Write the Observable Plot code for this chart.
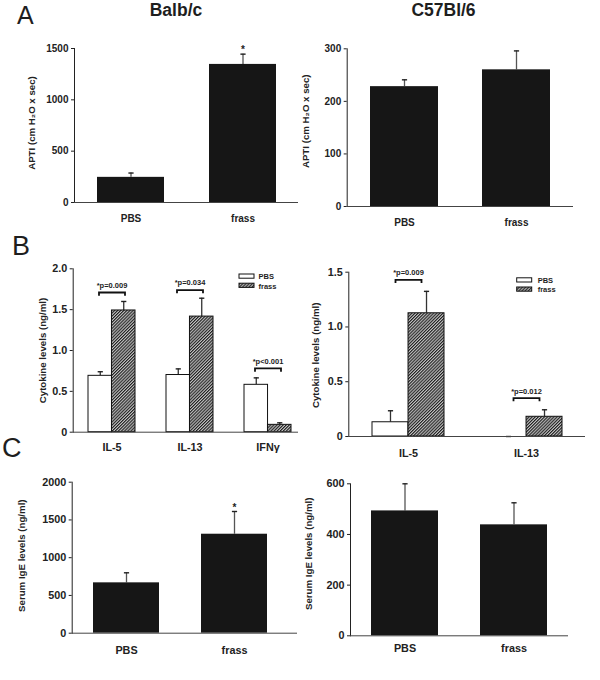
<!DOCTYPE html>
<html><head><meta charset="utf-8">
<script src="https://cdn.jsdelivr.net/npm/d3@7"></script>
<script src="https://cdn.jsdelivr.net/npm/@observablehq/plot@0.6"></script>
<style>
html,body{margin:0;padding:0;background:#fff;}
#root{position:relative;width:600px;height:680px;overflow:hidden;font-family:"Liberation Sans",Arial,Helvetica,sans-serif;}
</style></head><body>
<div id="root">
<svg width="0" height="0" style="position:absolute"><defs>
<pattern id="hatch" patternUnits="userSpaceOnUse" width="2.2" height="2.2" patternTransform="rotate(45)">
<rect width="2.2" height="2.2" fill="#c4c4c4"/><rect width="1.1" height="2.2" fill="#1e1e1e"/></pattern></defs></svg>
</div>
<script>
// ---- Data ----
const panelLetters = ["A", "B", "C"];
const strains = ["Balb/c", "C57Bl/6"];
const treatments = ["PBS", "frass"];
const legendLabels = ["PBS", "frass"];
// A: APTI
const aptiLabel = "APTI (cm H\u2082O x sec)";
const balbAPTI = [245, 1345];
const balbAPTIErr = [42, 100];
const balbAPTINote = ["", "*"];
const balbAPTITicks = [0, 500, 1000, 1500];
const c57APTI = [228, 260];
const c57APTIErr = [13, 36];
const c57APTINote = ["", ""];
const c57APTITicks = [0, 100, 200, 300];
// B: cytokines
const cytLabel = "Cytokine levels (ng/ml)";
const balbCytokines = ["IL-5", "IL-13", "IFN\u03b3"];
const balbCytPBS = [0.69, 0.70, 0.58];
const balbCytPBSErr = [0.05, 0.075, 0.085];
const balbCytFrass = [1.49, 1.415, 0.09];
const balbCytFrassErr = [0.11, 0.225, 0.025];
const balbCytP = ["*p=0.009", "*p=0.034", "*p<0.001"];
const balbCytPLevel = [1.71, 1.74, 0.78];
const balbCytTicks = [0, 0.5, 1.0, 1.5, 2.0];
const c57Cytokines = ["IL-5", "IL-13"];
const c57CytPBS = [0.13, 0];
const c57CytPBSErr = [0.105, 0];
const c57CytFrass = [1.125, 0.18];
const c57CytFrassErr = [0.2, 0.064];
const c57CytP = ["*p=0.009", "*p=0.012"];
const c57CytPLevel = [1.43, 0.35];
const c57CytTicks = [0, 0.5, 1.0, 1.5];
// C: IgE
const igeLabel = "Serum IgE levels (ng/ml)";
const balbIgE = [667, 1311];
const balbIgEErr = [133, 301];
const balbIgENote = ["", "*"];
const balbIgETicks = [0, 500, 1000, 1500, 2000];
const c57IgE = [493, 438];
const c57IgEErr = [107, 87];
const c57IgENote = ["", ""];
const c57IgETicks = [0, 200, 400, 600];

// ---- Rendering ----
const FONT = '"Liberation Sans", Arial, Helvetica, sans-serif';
const root = document.getElementById("root");
const capSymbol = {draw(ctx, size) { const w = Math.sqrt(size / Math.PI); ctx.moveTo(-w, 0); ctx.lineTo(w, 0); }};
const bracketSymbol = {draw(ctx, size) { const w = Math.sqrt(size / Math.PI); ctx.moveTo(-w, 3.2); ctx.lineTo(-w, 0); ctx.lineTo(w, 0); ctx.lineTo(w, 3.2); }};
const fmtInt = d => String(d);
const fmtDec = d => d === 0 ? "0" : d.toFixed(1);

function place(fig, L) {
  fig.style.position = "absolute";
  fig.style.left = L.left + "px";
  fig.style.top = L.top + "px";
  root.appendChild(fig);
}
function baseOpts(L, domain, ticks, fmt) {
  return {
    width: L.w, height: L.h,
    marginTop: L.mt, marginRight: L.mr, marginBottom: L.mb, marginLeft: L.ml,
    style: `font-family:${FONT};font-size:${L.fs}px;font-weight:bold;color:#222;background:transparent;overflow:visible;`,
    x: {type: "band", domain, paddingInner: L.pi, paddingOuter: L.po, align: L.al, label: null, tickSize: 0, tickPadding: L.tp},
    y: {domain: [ticks[0], ticks[ticks.length - 1]], ticks, tickFormat: fmt, label: null, tickSize: 3, tickPadding: 3, line: true}
  };
}
function yLabelMark(label, L) {
  return Plot.text([label], {text: d => d, frameAnchor: "left", rotate: -90, textAnchor: "middle", dx: L.ldx, dy: L.ldy, fontSize: 9.7, fill: "#222"});
}
function simplePanel(L, cats, vals, errs, notes, ticks, label) {
  const data = cats.map((c, i) => ({cat: c, value: vals[i], err: errs[i], note: notes[i]}));
  const fig = Plot.plot({
    ...baseOpts(L, cats, ticks, fmtInt),
    marks: [
      Plot.ruleX(data, {x: "cat", y1: "value", y2: d => d.value + d.err, stroke: "#555", strokeWidth: 1.3}),
      Plot.barY(data, {x: "cat", y: "value", fill: "#161616"}),
      Plot.dot(data, {x: "cat", y: d => d.value + d.err, symbol: capSymbol, r: 2.6, stroke: "#222", fill: "none", strokeWidth: 1.4}),
      Plot.text(data, {x: "cat", y: d => d.value + d.err, text: "note", dy: -4, fontSize: 10, fill: "#222"}),
      Plot.ruleY([0], {stroke: "#444", strokeWidth: 1}),
      yLabelMark(label, L)
    ]
  });
  place(fig, L);
}
function groupedPanel(L, groups, pbs, pbsErr, frass, frassErr, pLabels, pLevels, ticks, label) {
  const half = d3.scaleBand().domain(groups).range([L.ml, L.w - L.mr])
    .paddingInner(L.pi).paddingOuter(L.po).align(L.al).bandwidth() / 2;
  const P = groups.map((g, i) => ({g, value: pbs[i], err: pbsErr[i]}));
  const F = groups.map((g, i) => ({g, value: frass[i], err: frassErr[i]}));
  const S = groups.map((g, i) => ({g, label: pLabels[i], level: pLevels[i]}));
  const top = d => d.value + d.err;
  const fig = Plot.plot({
    ...baseOpts(L, groups, ticks, fmtDec),
    marks: [
      Plot.ruleX(P, {x: "g", y1: "value", y2: top, dx: -half / 2, stroke: "#333", strokeWidth: 1.3}),
      Plot.ruleX(F, {x: "g", y1: "value", y2: top, dx: half / 2, stroke: "#333", strokeWidth: 1.3}),
      Plot.barY(P, {x: "g", y: "value", fill: "white", stroke: "#111", strokeWidth: 1, insetRight: half}),
      Plot.barY(F, {x: "g", y: "value", fill: "url(#hatch)", stroke: "#111", strokeWidth: 1, insetLeft: half}),
      Plot.dot(P, {x: "g", y: top, dx: -half / 2, symbol: capSymbol, r: 2.6, stroke: "#222", fill: "none", strokeWidth: 1.4}),
      Plot.dot(F, {x: "g", y: top, dx: half / 2, symbol: capSymbol, r: 2.6, stroke: "#222", fill: "none", strokeWidth: 1.4}),
      Plot.dot(S, {x: "g", y: "level", symbol: bracketSymbol, r: 13, stroke: "#111", fill: "none", strokeWidth: 1.8}),
      Plot.text(S, {x: "g", y: "level", text: "label", dy: -7, fontSize: 7.5, fill: "#222"}),
      Plot.ruleY([0], {stroke: "#444", strokeWidth: 1}),
      yLabelMark(label, L)
    ]
  });
  place(fig, L);
}

const LA1 = {left: 0, top: 30, w: 300, h: 200, mt: 18, mr: 2, mb: 28, ml: 74, pi: .402, po: .201, al: .5, tp: 12.4, fs: 10, ldx: -42.3, ldy: -2.5};
const LA2 = {left: 300, top: 30, w: 300, h: 200, mt: 18.3, mr: 27, mb: 24, ml: 46.7, pi: .394, po: .201, al: .5, tp: 12.4, fs: 10, ldx: -41.7, ldy: -6.4};
const LB1 = {left: 0, top: 250, w: 300, h: 210, mt: 18.3, mr: 2, mb: 28.3, ml: 72.7, pi: .4, po: .14, al: .7, tp: 11, fs: 10.8, ldx: -30, ldy: 0};
const LB2 = {left: 300, top: 250, w: 300, h: 210, mt: 21.7, mr: 15, mb: 24, ml: 48.3, pi: .393, po: .1935, al: .5, tp: 13, fs: 10.8, ldx: -33.3, ldy: 1};
const LC1 = {left: 0, top: 465, w: 300, h: 215, mt: 16.7, mr: 3, mb: 47.3, ml: 71.7, pi: .392, po: .233, al: .414, tp: 13.5, fs: 10.8, ldx: -50, ldy: -2};
const LC2 = {left: 300, top: 465, w: 300, h: 215, mt: 18.3, mr: 32, mb: 44.7, ml: 50, pi: .389, po: .1945, al: .5, tp: 9, fs: 10.8, ldx: -42, ldy: -6};

simplePanel(LA1, treatments, balbAPTI, balbAPTIErr, balbAPTINote, balbAPTITicks, aptiLabel);
simplePanel(LA2, treatments, c57APTI, c57APTIErr, c57APTINote, c57APTITicks, aptiLabel);
groupedPanel(LB1, balbCytokines, balbCytPBS, balbCytPBSErr, balbCytFrass, balbCytFrassErr, balbCytP, balbCytPLevel, balbCytTicks, cytLabel);
groupedPanel(LB2, c57Cytokines, c57CytPBS, c57CytPBSErr, c57CytFrass, c57CytFrassErr, c57CytP, c57CytPLevel, c57CytTicks, cytLabel);
simplePanel(LC1, treatments, balbIgE, balbIgEErr, balbIgENote, balbIgETicks, igeLabel);
simplePanel(LC2, treatments, c57IgE, c57IgEErr, c57IgENote, c57IgETicks, igeLabel);

// ---- Titles, panel letters, legends ----
const NS = "http://www.w3.org/2000/svg";
const ov = document.createElementNS(NS, "svg");
ov.setAttribute("width", 600); ov.setAttribute("height", 680);
ov.style.cssText = "position:absolute;left:0;top:0;pointer-events:none;font-family:" + FONT;
function addText(t, x, y, size, weight, anchor) {
  const e = document.createElementNS(NS, "text");
  e.setAttribute("x", x); e.setAttribute("y", y);
  e.setAttribute("font-size", size); e.setAttribute("font-weight", weight);
  e.setAttribute("text-anchor", anchor || "start"); e.setAttribute("fill", "#1e1e1e");
  e.textContent = t; ov.appendChild(e);
}
function addRect(x, y, w, h, fill) {
  const e = document.createElementNS(NS, "rect");
  e.setAttribute("x", x); e.setAttribute("y", y); e.setAttribute("width", w); e.setAttribute("height", h);
  e.setAttribute("fill", fill); e.setAttribute("stroke", "#111"); e.setAttribute("stroke-width", 1);
  ov.appendChild(e);
}
addText(panelLetters[0], 17, 23.5, 25, "normal");
addText(panelLetters[1], 12, 255, 27, "normal");
addText(panelLetters[2], 2, 457, 27, "normal");
addText(strains[0], 176, 16, 17.5, "bold", "middle");
addText(strains[1], 443.5, 16, 17.5, "bold", "middle");
const legendFills = ["white", "url(#hatch)"];
[[239, 274, 258.5], [516.7, 277.8, 537.7]].forEach(([bx, by, tx]) => {
  legendLabels.forEach((lab, i) => {
    addRect(bx, by + i * 9.2, 15, 4.2, legendFills[i]);
    addText(lab, tx, by + i * 9.2 + 5.3, 7.5, "bold");
  });
});
root.appendChild(ov);
</script>
</body></html>
